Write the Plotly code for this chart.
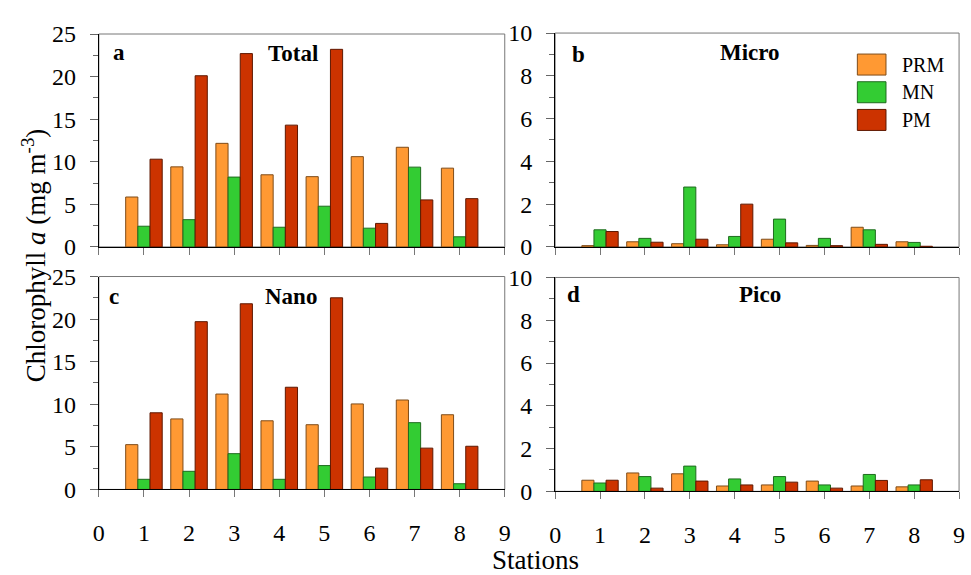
import plotly.graph_objects as go

W, H = 971, 575

stations = [1, 2, 3, 4, 5, 6, 7, 8]
series_names = ["PRM", "MN", "PM"]

total_prm = [5.86, 9.4, 12.16, 8.47, 8.25, 10.6, 11.7, 9.25]
total_mn = [2.43, 3.2, 8.2, 2.31, 4.78, 2.2, 9.37, 1.19]
total_pm = [10.3, 20.1, 22.7, 14.3, 23.2, 2.76, 5.52, 5.67]

micro_prm = [0.06, 0.24, 0.15, 0.10, 0.36, 0.07, 0.92, 0.24]
micro_mn = [0.80, 0.40, 2.80, 0.49, 1.30, 0.40, 0.80, 0.21]
micro_pm = [0.72, 0.22, 0.36, 2.00, 0.19, 0.06, 0.12, 0.03]

nano_prm = [5.26, 8.28, 11.2, 8.06, 7.6, 10.04, 10.5, 8.77]
nano_mn = [1.19, 2.13, 4.2, 1.19, 2.8, 1.46, 7.84, 0.67]
nano_pm = [9.0, 19.7, 21.8, 12.0, 22.5, 2.5, 4.85, 5.07]

pico_prm = [0.52, 0.86, 0.82, 0.25, 0.30, 0.48, 0.25, 0.21]
pico_mn = [0.39, 0.69, 1.18, 0.58, 0.69, 0.30, 0.79, 0.30]
pico_pm = [0.52, 0.15, 0.48, 0.30, 0.43, 0.15, 0.51, 0.54]

x_ticks = [0, 1, 2, 3, 4, 5, 6, 7, 8, 9]

fill_colors = ["#FF9933", "#33CC33", "#CC3300"]
line_colors = ["#7F4C19", "#1E6B1E", "#5E1800"]

FONT = "Liberation Serif, Times New Roman, serif"


def X(px):
    return px / W


def Y(py):
    return 1 - py / H


panels = [
    ("", [total_prm, total_mn, total_pm], (94, 505), (22, 245), 25, 5, 2.5, "a", "Total", (106, 41), (291, 42)),
    ("2", [micro_prm, micro_mn, micro_pm], (556, 965), (21, 245), 10, 2, 1, "b", "Micro", (571, 43), (753, 41)),
    ("3", [nano_prm, nano_mn, nano_pm], (94, 505), (276, 499), 25, 5, 2.5, "c", "Nano", (102, 297), (289, 297)),
    ("4", [pico_prm, pico_mn, pico_pm], (556, 965), (277, 501), 10, 2, 1, "d", "Pico", (566, 295), (763, 295)),
]

fig = go.Figure()
layout = dict(
    width=W, height=H, autosize=False,
    margin=dict(l=0, r=0, t=0, b=0),
    paper_bgcolor="white", plot_bgcolor="white",
    barmode="group", bargap=0.19, bargroupgap=0,
    showlegend=False,
    font=dict(family=FONT, size=24, color="black"),
)
shapes = []
annotations = []

for i, (suf, data, xr, yr, ymax, dt, mdt, letter, title, lpos, tpos) in enumerate(panels):
    xa = "x" + suf
    ya = "y" + suf
    for s, vals in enumerate(data):
        fig.add_trace(go.Bar(
            x=stations, y=vals, name=series_names[s],
            marker=dict(color=fill_colors[s], line=dict(color=line_colors[s], width=1)),
            xaxis=xa, yaxis=ya,
        ))
    bottom = i >= 2
    layout["xaxis" + suf] = dict(
        domain=[X(xr[0]), X(xr[1])], range=[0, 9], anchor=ya,
        tickmode="array", tickvals=x_ticks, ticktext=[str(v) for v in x_ticks],
        showticklabels=bottom, ticks="outside", ticklen=7, tickcolor="#777",
        ticklabelstandoff=15,
        showline=True, linecolor="black", linewidth=1, showgrid=False, zeroline=False,
        tickfont=dict(family=FONT, size=24, color="black"),
    )
    layout["yaxis" + suf] = dict(
        domain=[Y(yr[1]), Y(yr[0])], range=[0, ymax], anchor=xa,
        dtick=dt, tick0=0, ticks="outside", ticklen=8, tickcolor="#666",
        ticklabelstandoff=9,
        minor=dict(dtick=mdt, tick0=0, ticks="outside", ticklen=5, tickcolor="#666"),
        showline=True, linecolor="black", linewidth=1, showgrid=False, zeroline=False,
        tickfont=dict(family=FONT, size=24, color="black"),
    )
    shapes.append(dict(type="rect", xref=xa + " domain", yref=ya + " domain",
                       x0=0, x1=1, y0=0, y1=1, line=dict(color="#777", width=1), layer="below"))
    annotations.append(dict(text="<b>%s</b>" % letter, x=X(lpos[0]), y=Y(lpos[1]), xref="paper", yref="paper",
                            xanchor="left", yanchor="middle", showarrow=False,
                            font=dict(family=FONT, size=23, color="black")))
    annotations.append(dict(text="<b>%s</b>" % title, x=X(tpos[0]), y=Y(tpos[1]), xref="paper", yref="paper",
                            xanchor="center", yanchor="middle", showarrow=False,
                            font=dict(family=FONT, size=23, color="black")))

# custom legend in panel b
box_tops = [43, 72, 101]
for s, top in enumerate(box_tops):
    shapes.append(dict(type="rect", xref="paper", yref="paper",
                       x0=X(862), x1=X(891), y0=Y(top + 22), y1=Y(top),
                       fillcolor=fill_colors[s], line=dict(color=line_colors[s], width=1)))
    annotations.append(dict(text=series_names[s], x=X(905), y=Y(top + 11), xref="paper", yref="paper",
                            xanchor="left", yanchor="middle", showarrow=False,
                            font=dict(family=FONT, size=20, color="black")))

annotations.append(dict(text="Chlorophyll <i>a</i> (mg m<sup>-3</sup>)", x=X(28), y=Y(254),
                        xref="paper", yref="paper", textangle=-90, showarrow=False,
                        xanchor="center", yanchor="middle",
                        font=dict(family=FONT, size=27, color="black")))
annotations.append(dict(text="Stations", x=X(536), y=Y(567), yshift=-6, xref="paper", yref="paper",
                        showarrow=False, xanchor="center", yanchor="middle",
                        font=dict(family=FONT, size=27, color="black")))

layout["shapes"] = shapes
layout["annotations"] = annotations
fig.update_layout(**layout)
fig.write_html("out.html")
